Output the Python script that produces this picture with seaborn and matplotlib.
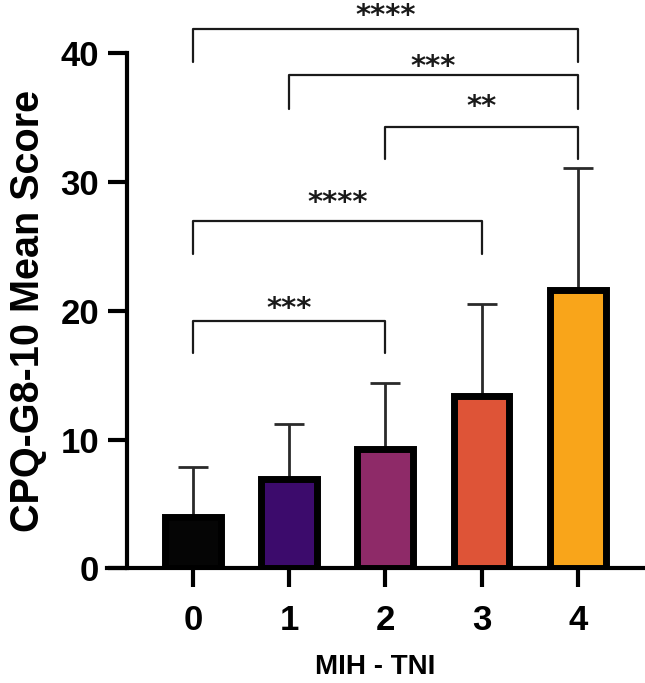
import numpy as np
import pandas as pd
import matplotlib
matplotlib.use("Agg")
import matplotlib.pyplot as plt
import seaborn as sns

# values
groups = ["0", "1", "2", "3", "4"]
means = [4.0, 6.9, 9.3, 13.4, 21.6]
sd = [3.9, 4.3, 5.1, 7.1, 9.5]
bar_colors = ["#050505", "#3c0b6c", "#8e2a68", "#de5437", "#f9a51a"]

# significance brackets: (left group, right group, bracket height, drop to, label, label height)
bracket_left = [0, 1, 2, 0, 0]
bracket_right = [4, 4, 4, 3, 2]
bracket_y = [41.9, 38.3, 34.3, 27.0, 19.2]
bracket_drop = [39.3, 35.7, 31.8, 24.4, 16.7]
bracket_labels = ["****", "***", "**", "****", "***"]
label_y = [43.5, 39.6, 36.5, 29.0, 20.8]

df = pd.DataFrame({"group": groups, "mean": means})

sns.set_style("ticks")
plt.rcParams["font.family"] = ["Liberation Sans", "DejaVu Sans"]
plt.rcParams["font.weight"] = "bold"
plt.rcParams["text.color"] = "black"
plt.rcParams["axes.labelcolor"] = "black"
plt.rcParams["xtick.color"] = "black"
plt.rcParams["ytick.color"] = "black"

fig = plt.figure(figsize=(6.45, 6.83), dpi=100)
ax = fig.add_axes([0.166, 0.168, 0.831, 0.8294])

sns.barplot(data=df, x="group", y="mean", hue="group", palette=bar_colors,
            saturation=1, legend=False, errorbar=None, width=0.58,
            edgecolor="black", linewidth=5, ax=ax, zorder=3)

# one-sided error bars (upper only)
xpos = np.arange(len(groups))
ax.errorbar(xpos, means, yerr=[np.zeros(len(sd)), sd], fmt="none",
            ecolor="#2a2a2a", elinewidth=2, capsize=11, capthick=2, zorder=2)

# brackets
for l, r, y, d, lab, ly in zip(bracket_left, bracket_right, bracket_y,
                               bracket_drop, bracket_labels, label_y):
    ax.plot([l, l, r, r], [d, y, y, d], color="#1a1a1a", lw=1.6,
            clip_on=False, zorder=4)
    # asterisk top sits at the top of the text box, so place by the top
    ax.text((l + r) / 2, min(ly + 0.45, 43.95), lab, ha="center", va="top",
            fontsize=21, fontweight="bold", color="#1a1a1a",
            family=["DejaVu Sans"], clip_on=False)

ax.set_xlim(-0.894, 4.68)
ax.set_ylim(0, 44)
ax.set_yticks([0, 10, 20, 30, 40])
ax.spines["left"].set_position(("data", -0.686))
ax.spines["left"].set_bounds(0, 40)
ax.spines["top"].set_visible(False)
ax.spines["right"].set_visible(False)
for s in ["left", "bottom"]:
    ax.spines[s].set_linewidth(3)
    ax.spines[s].set_color("black")
ax.tick_params(axis="both", length=14, width=3, labelsize=25,
               color="black", labelcolor="black")
ax.tick_params(axis="y", pad=6)
ax.tick_params(axis="x", pad=12)
for t in ax.get_xticklabels() + ax.get_yticklabels():
    t.set_fontweight("bold")

ax.set_xlabel("MIH - TNI", fontsize=20, fontweight="bold", labelpad=12, color="black")
ax.set_ylabel("CPQ-G8-10 Mean Score", fontsize=28.5, fontweight="bold", color="black")
ax.yaxis.set_label_coords(-0.113, 20 / 44)

fig.savefig("out.png", dpi=100)
